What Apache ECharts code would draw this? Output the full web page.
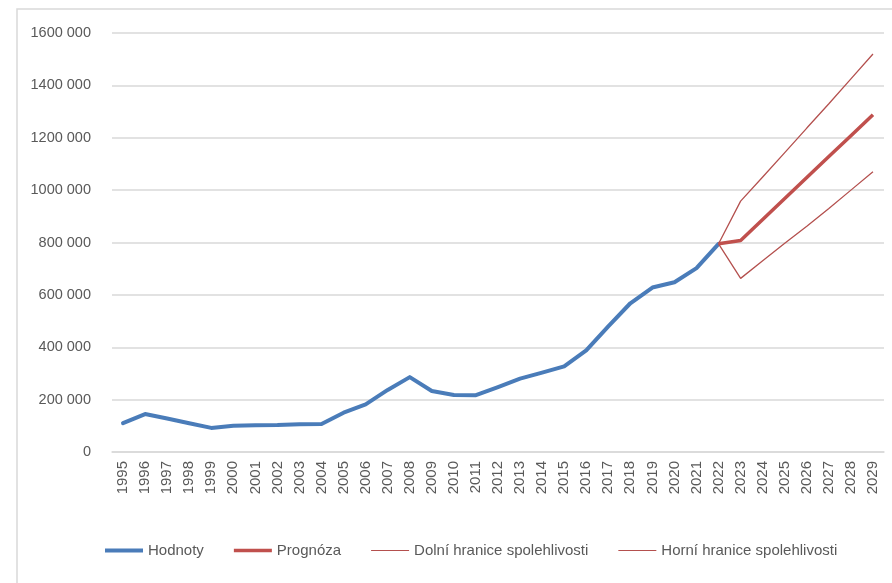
<!DOCTYPE html>
<html>
<head>
<meta charset="utf-8">
<script src="https://cdn.jsdelivr.net/npm/echarts@6/dist/echarts.min.js"></script>
<style>
  html, body { margin: 0; padding: 0; background: #ffffff; }
  #chart { width: 892px; height: 583px; }
</style>
</head>
<body>
<div id="chart"></div>
<script>
// Years on the category axis
const years = [
  '1995','1996','1997','1998','1999','2000','2001','2002','2003','2004',
  '2005','2006','2007','2008','2009','2010','2011','2012','2013','2014',
  '2015','2016','2017','2018','2019','2020','2021','2022','2023','2024',
  '2025','2026','2027','2028','2029'
];

// Observed values 1995–2022
const hodnoty = [
  110000, 145000, 128000, 110000, 92000, 100000, 102000, 103000, 106000, 107000,
  150000, 182000, 237000, 286000, 233000, 218000, 217000, 248000, 280000, 303000,
  327000, 388000, 480000, 568000, 628000, 648000, 702000, 795000
];

// Forecast 2022–2029 (starts at the last observed value)
const prognoza = [795000, 808000, 888000, 968000, 1048000, 1128000, 1208000, 1288000];
// Lower confidence bound 2022–2029
const dolniHranice = [795000, 663000, 730000, 797000, 862000, 930000, 1000000, 1070000];
// Upper confidence bound 2022–2029
const horniHranice = [795000, 958000, 1050000, 1143000, 1237000, 1330000, 1425000, 1520000];

// Y axis ticks
const yMin = 0, yMax = 1600000, yStep = 200000;

const forecastStart = years.indexOf('2022');
const padTail = arr => arr.concat(new Array(years.length - arr.length).fill(null));
const padHead = arr => new Array(forecastStart).fill(null).concat(arr);

// "1600 000" style: space before the last group of three digits
const fmtThousands = v => {
  const s = String(Math.round(v));
  return s.length > 3 ? s.slice(0, -3) + ' ' + s.slice(-3) : s;
};

const FONT = 'Liberation Sans, Arial, sans-serif';
const TEXT = '#595959';
const BLUE = '#4a7cb9';
const RED = '#c0504d';
const RED_THIN = '#b4504e';

// Legend keys drawn as plain line strokes of different thickness
const thickKey = 'path://M0,0L40,0L40,4L0,4Z';
const midKey = 'path://M0,0L40,0L40,3.5L0,3.5Z';
const thinKey = 'path://M0,0L40,0L40,1.3L0,1.3Z';

const chart = echarts.init(document.getElementById('chart'), null, { renderer: 'canvas' });

chart.setOption({
  animation: false,
  backgroundColor: '#ffffff',
  textStyle: { fontFamily: FONT },
  graphic: [{
    type: 'rect',
    shape: { x: 17, y: 9, width: 900, height: 600 },
    style: { fill: 'none', stroke: '#d9d9d9', lineWidth: 1.5 },
    silent: true,
    z: -10
  }],
  grid: { left: 112, right: 8, top: 33, bottom: 131, containLabel: false },
  legend: {
    left: 100,
    top: 538,
    itemWidth: 38,
    itemHeight: 14,
    itemGap: 30,
    textStyle: { color: TEXT, fontSize: 15, fontFamily: FONT },
    data: [
      { name: 'Hodnoty', icon: thickKey, itemStyle: { color: BLUE } },
      { name: 'Prognóza', icon: midKey, itemStyle: { color: RED } },
      { name: 'Dolní hranice spolehlivosti', icon: thinKey, itemStyle: { color: RED_THIN } },
      { name: 'Horní hranice spolehlivosti', icon: thinKey, itemStyle: { color: RED_THIN } }
    ]
  },
  xAxis: {
    type: 'category',
    data: years,
    boundaryGap: true,
    axisLine: { show: true, lineStyle: { color: '#d9d9d9', width: 1.5 } },
    axisTick: { show: false },
    axisLabel: {
      rotate: 90,
      interval: 0,
      margin: 9,
      color: TEXT,
      fontSize: 15,
      fontFamily: FONT
    },
    splitLine: { show: false }
  },
  yAxis: {
    type: 'value',
    min: yMin,
    max: yMax,
    interval: yStep,
    axisLine: { show: false },
    axisTick: { show: false },
    axisLabel: {
      margin: 21,
      color: TEXT,
      fontSize: 14.5,
      fontFamily: FONT,
      formatter: v => fmtThousands(v)
    },
    splitLine: { show: true, lineStyle: { color: '#d9d9d9', width: 1.5 } }
  },
  series: [
    {
      name: 'Hodnoty',
      type: 'line',
      data: padTail(hodnoty),
      symbol: 'none',
      lineStyle: { color: BLUE, width: 4, cap: 'round', join: 'round' },
      itemStyle: { color: BLUE },
      z: 2
    },
    {
      name: 'Prognóza',
      type: 'line',
      data: padHead(prognoza),
      symbol: 'none',
      lineStyle: { color: RED, width: 3.5, join: 'round' },
      itemStyle: { color: RED },
      z: 4
    },
    {
      name: 'Dolní hranice spolehlivosti',
      type: 'line',
      data: padHead(dolniHranice),
      symbol: 'none',
      lineStyle: { color: RED_THIN, width: 1.3 },
      itemStyle: { color: RED_THIN },
      z: 3
    },
    {
      name: 'Horní hranice spolehlivosti',
      type: 'line',
      data: padHead(horniHranice),
      symbol: 'none',
      lineStyle: { color: RED_THIN, width: 1.3 },
      itemStyle: { color: RED_THIN },
      z: 3
    }
  ]
});
</script>
</body>
</html>
